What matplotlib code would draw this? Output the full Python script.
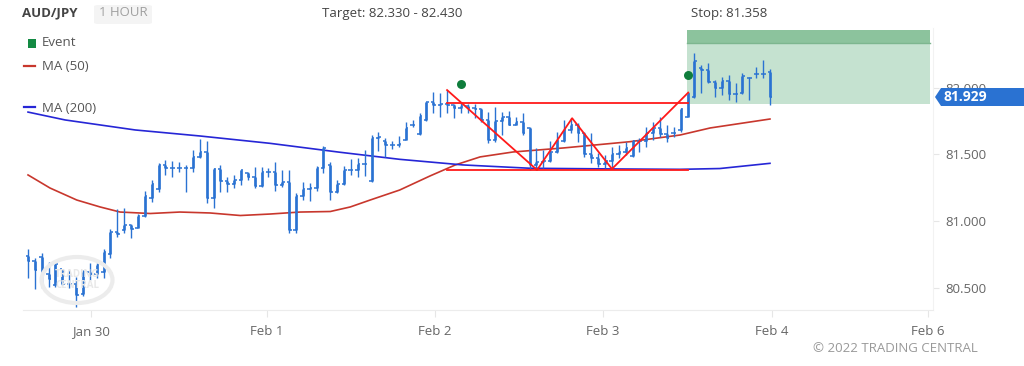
import matplotlib
matplotlib.use("Agg")
import matplotlib.pyplot as plt
from matplotlib import font_manager
from matplotlib.patches import Rectangle, FancyBboxPatch, Polygon, Ellipse
import matplotlib.transforms as mtrans
import numpy as np

# ---------------- data ----------------
opens = [80.74, 80.70, 80.733, 80.60, 80.52, 80.64, 80.53, 80.53, 80.45, 80.62,
         80.60, 80.62, 80.75, 80.92, 80.93, 80.97, 80.95, 81.04, 81.17, 81.24,
         81.42, 81.40, 81.40, 81.40, 81.40, 81.48, 81.52, 81.17, 81.39, 81.30,
         81.28, 81.31, 81.36, 81.33, 81.26, 81.37, 81.37, 81.27, 81.29, 80.93,
         81.19, 81.24, 81.25, 81.40, 81.42, 81.22, 81.28, 81.38, 81.38, 81.43,
         81.30, 81.62, 81.60, 81.57, 81.57, 81.61, 81.72, 81.65, 81.76, 81.89,
         81.87, 81.88, 81.87, 81.85, 81.86, 81.85, 81.84, 81.76, 81.61, 81.75,
         81.78, 81.72, 81.74, 81.70, 81.42, 81.44, 81.45, 81.52, 81.60, 81.68,
         81.72, 81.66, 81.50, 81.47, 81.43, 81.45, 81.50, 81.52, 81.49, 81.60,
         81.60, 81.66, 81.70, 81.65, 81.66, 81.68, 81.78, 81.93, 82.15, 82.13,
         82.04, 82.00, 82.05, 81.95, 81.96, 82.07, 82.10, 82.10, 82.12]
highs = [80.788, 80.720, 80.762, 80.695, 80.693, 80.641, 80.633, 80.583, 80.633, 80.688,
         80.688, 80.788, 80.938, 81.088, 81.095, 80.975, 81.052, 81.227, 81.307, 81.432,
         81.457, 81.452, 81.444, 81.420, 81.532, 81.612, 81.601, 81.395, 81.420, 81.327,
         81.344, 81.382, 81.369, 81.402, 81.402, 81.395, 81.444, 81.382, 81.382, 81.212,
         81.294, 81.282, 81.412, 81.562, 81.440, 81.307, 81.410, 81.462, 81.469, 81.532,
         81.644, 81.669, 81.620, 81.601, 81.637, 81.744, 81.757, 81.807, 81.894, 81.969,
         81.957, 81.981, 81.880, 81.894, 81.880, 81.876, 81.844, 81.819, 81.856, 81.819,
         81.826, 81.781, 81.810, 81.706, 81.544, 81.532, 81.601, 81.669, 81.757, 81.774,
         81.732, 81.669, 81.657, 81.507, 81.494, 81.557, 81.570, 81.594, 81.607, 81.620,
         81.706, 81.744, 81.781, 81.719, 81.706, 81.844, 81.957, 82.256, 82.168, 82.186,
         82.056, 82.081, 82.094, 82.031, 82.106, 82.081, 82.156, 82.206, 82.136]
lows = [80.572, 80.488, 80.496, 80.508, 80.505, 80.520, 80.498, 80.353, 80.440, 80.558,
        80.575, 80.570, 80.720, 80.882, 80.913, 80.876, 80.947, 81.028, 81.140, 81.219,
        81.345, 81.332, 81.369, 81.220, 81.369, 81.470, 81.132, 81.095, 81.215, 81.215,
        81.245, 81.270, 81.307, 81.250, 81.255, 81.332, 81.225, 81.257, 80.908, 80.908,
        81.157, 81.152, 81.228, 81.362, 81.157, 81.207, 81.270, 81.344, 81.332, 81.337,
        81.294, 81.527, 81.477, 81.539, 81.556, 81.607, 81.707, 81.644, 81.752, 81.807,
        81.782, 81.807, 81.770, 81.807, 81.807, 81.770, 81.744, 81.582, 81.594, 81.644,
        81.719, 81.719, 81.644, 81.382, 81.382, 81.395, 81.440, 81.510, 81.594, 81.657,
        81.594, 81.482, 81.432, 81.407, 81.395, 81.395, 81.470, 81.494, 81.482, 81.520,
        81.557, 81.607, 81.631, 81.594, 81.631, 81.669, 81.777, 81.919, 81.961, 82.031,
        81.927, 81.944, 81.906, 81.894, 81.951, 81.906, 82.069, 82.069, 81.869]
closes = [80.70, 80.633, 80.60, 80.565, 80.68, 80.53, 80.53, 80.446, 80.62, 80.60,
          80.67, 80.77, 80.92, 80.90, 80.97, 80.94, 81.04, 81.19, 81.28, 81.42,
          81.40, 81.40, 81.40, 81.40, 81.48, 81.52, 81.17, 81.39, 81.30, 81.28,
          81.31, 81.38, 81.33, 81.26, 81.37, 81.37, 81.27, 81.29, 80.93, 81.19,
          81.24, 81.25, 81.40, 81.55, 81.22, 81.28, 81.38, 81.38, 81.43, 81.43,
          81.62, 81.63, 81.57, 81.57, 81.58, 81.70, 81.72, 81.79, 81.89, 81.87,
          81.88, 81.87, 81.85, 81.86, 81.85, 81.84, 81.76, 81.61, 81.75, 81.78,
          81.72, 81.74, 81.66, 81.42, 81.44, 81.45, 81.52, 81.60, 81.68, 81.72,
          81.66, 81.50, 81.47, 81.43, 81.45, 81.50, 81.52, 81.55, 81.60, 81.60,
          81.66, 81.70, 81.65, 81.62, 81.66, 81.84, 81.95, 82.20, 82.13, 82.04,
          82.00, 82.05, 81.95, 81.95, 82.09, 82.07, 82.10, 82.10, 81.929]

# moving averages (bar index, value)
ma50_idx = [0, 3.2, 7.1, 10.5, 13.4, 17.8, 22.1, 26.5, 30.9, 35.2, 39.6, 44, 46.9, 49.8,
            54.1, 58.5, 62.2, 65.8, 70.6, 77.9, 87.6, 94.9, 99.3, 108]
ma50_val = [81.345, 81.247, 81.157, 81.105, 81.067, 81.056, 81.067, 81.060, 81.041, 81.052,
            81.067, 81.071, 81.105, 81.157, 81.232, 81.337, 81.420, 81.480, 81.517, 81.547,
            81.594, 81.644, 81.697, 81.764]
ma200_idx = [0, 5.4, 15.6, 25.0, 35.2, 45.4, 54.1, 63.3, 73.1, 85.2, 94.9, 100.7, 108]
ma200_val = [81.816, 81.757, 81.682, 81.637, 81.582, 81.515, 81.462, 81.420, 81.395,
             81.390, 81.387, 81.393, 81.432]

# pattern (double bottom)
zig_idx = [61.0, 74.1, 79.2, 85.0, 96.1]
zig_val = [81.981, 81.382, 81.770, 81.390, 81.962]
neck_idx = [61.0, 96.1]
neck_val = 81.882
base_val = 81.382

event_idx = [63.0, 96.1]
event_val = [82.030, 82.096]

target_lo, target_hi = 82.330, 82.430
entry_level = 81.876
zone_start = 95.9
stop_level = 81.358
last_price = 81.929

ytick_vals = [80.5, 81.0, 81.5, 82.0]
xtick_pos = [9.2, 34.8, 59.2, 83.7, 108.3, 131.0]
xtick_labels = ["Jan 30", "Feb 1", "Feb 2", "Feb 3", "Feb 4", "Feb 6"]

# ---------------- style ----------------
avail = {f.name for f in font_manager.fontManager.ttflist}
base_font = "Open Sans" if "Open Sans" in avail else "DejaVu Sans"
plt.rcParams["font.family"] = [base_font, "DejaVu Sans"]

W, H = 1024, 366
fig = plt.figure(figsize=(W / 100, H / 100), dpi=100)
fx = lambda p: p / W
fy = lambda p: 1 - p / H

ax = fig.add_axes([fx(23), fy(310), fx(933) - fx(23), fy(28) - fy(310)])
ax.set_xlim(-0.73, 131.73)
ax.set_ylim(80.333, 82.446)

bar_col = "#2a72d2"
n = len(closes)
x = np.arange(n)
tick_w = 0.36
ax.vlines(x, lows, highs, color=bar_col, lw=1.0, zorder=3)
ax.vlines(x, np.minimum(opens, closes), np.maximum(opens, closes), color=bar_col, lw=1.9, zorder=3)
ax.hlines(opens, x - tick_w, x, color=bar_col, lw=1.1, zorder=3)
ax.hlines(closes, x, x + tick_w, color=bar_col, lw=1.1, zorder=3)

# moving averages
ax.plot(ma50_idx, ma50_val, color="#c8372d", lw=1.2, zorder=2)
ax.plot(ma200_idx, ma200_val, color="#2626d6", lw=1.2, zorder=2)

# target zone
ax.add_patch(Rectangle((zone_start, entry_level), 131.3 - zone_start, target_lo - entry_level,
                       facecolor="#c5e2d0", edgecolor="none", zorder=1))
ax.add_patch(Rectangle((zone_start, target_lo), 131.3 - zone_start, target_hi - target_lo,
                       facecolor="#8cc39d", edgecolor="none", zorder=1))
ax.plot([zone_start, 131.3], [target_lo, target_lo], color="#7db68f", lw=1, zorder=1)

# pattern lines
ax.plot(neck_idx, [neck_val, neck_val], color="#ff1a1a", lw=1.3, zorder=4)
ax.plot(neck_idx, [base_val, base_val], color="#ff1a1a", lw=1.3, zorder=4)
ax.plot(zig_idx, zig_val, color="#ff1a1a", lw=1.3, zorder=4)

# events
ax.scatter(event_idx, event_val, s=42, color="#0f7d3c", zorder=5, linewidths=0)

# axes styling
for s in ["top", "left"]:
    ax.spines[s].set_visible(False)
ax.spines["bottom"].set_color("#ececec")
ax.spines["right"].set_color("#f2f2f2")
ax.yaxis.tick_right()
ax.set_yticks(ytick_vals)
ax.set_yticklabels([f"{v:.3f}" for v in ytick_vals])
ax.tick_params(axis="y", length=4, color="#e6e6e6", pad=5, labelsize=9.5, labelcolor="#666666")
ax.set_xticks(xtick_pos)
ax.set_xticklabels(xtick_labels)
ax.tick_params(axis="x", length=5, color="#e6e6e6", pad=6, labelsize=9.5, labelcolor="#666666")

# watermark logo
fig.patches.append(Ellipse((fx(77), fy(280)), 71 / W, 46 / H, transform=fig.transFigure,
                           facecolor="none", edgecolor="#ececec", lw=3, zorder=0))
fig.text(fx(77), fy(280), "TRADING\nCENTRAL", ha="center", va="center", fontsize=7,
         color="#e8e8e8", fontweight="bold", linespacing=0.9, zorder=0)

# header texts
fig.text(fx(22), fy(13), "AUD/JPY", fontsize=9.5, fontweight="bold", color="#444444", va="center")
fig.patches.append(FancyBboxPatch((fx(94), fy(24)), fx(58), 19 / H, transform=fig.transFigure,
                                  boxstyle="round,pad=0,rounding_size=0.004",
                                  facecolor="#f4f4f4", edgecolor="none"))
fig.text(fx(123), fy(13), "1 HOUR", fontsize=9.5, color="#a0a0a0", ha="center", va="center")
fig.text(fx(392), fy(13), "Target: 82.330 - 82.430", fontsize=9.5, color="#444444",
         ha="center", va="center")
fig.text(fx(691), fy(13), "Stop: 81.358", fontsize=9.5, color="#444444", va="center")

# legend
fig.patches.append(Rectangle((fx(28), fy(47.5)), 8 / W, 8 / H, transform=fig.transFigure,
                             facecolor="#138a43", edgecolor="none"))
fig.text(fx(42), fy(43), "Event", fontsize=9.5, color="#555555", va="center")
fig.lines.append(plt.Line2D([fx(24), fx(35)], [fy(66), fy(66)], transform=fig.transFigure,
                            color="#c8372d", lw=1.6))
fig.text(fx(42), fy(67), "MA (50)", fontsize=9.5, color="#555555", va="center")
fig.lines.append(plt.Line2D([fx(24), fx(35)], [fy(107), fy(107)], transform=fig.transFigure,
                            color="#2626d6", lw=1.6))
fig.text(fx(42), fy(108), "MA (200)", fontsize=9.5, color="#555555", va="center")

# last price label
bt = mtrans.blended_transform_factory(fig.transFigure, ax.transData)
hh = 9 * (82.446 - 80.333) / 282
poly = Polygon([(fx(935), last_price), (fx(941), last_price + hh), (fx(1024), last_price + hh),
                (fx(1024), last_price - hh), (fx(941), last_price - hh)],
               closed=True, transform=bt, facecolor="#2a72d2", edgecolor="none", clip_on=False, zorder=10)
ax.add_patch(poly)
ax.text(fx(944), last_price, f"{last_price:.3f}", transform=bt, color="white", fontsize=10,
        fontweight="bold", va="center", ha="left", zorder=11, clip_on=False)

fig.text(fx(978), fy(349), "\u00a9 2022 TRADING CENTRAL", fontsize=9.5, color="#999999",
         ha="right", va="center")

fig.savefig("out.png", dpi=100)
